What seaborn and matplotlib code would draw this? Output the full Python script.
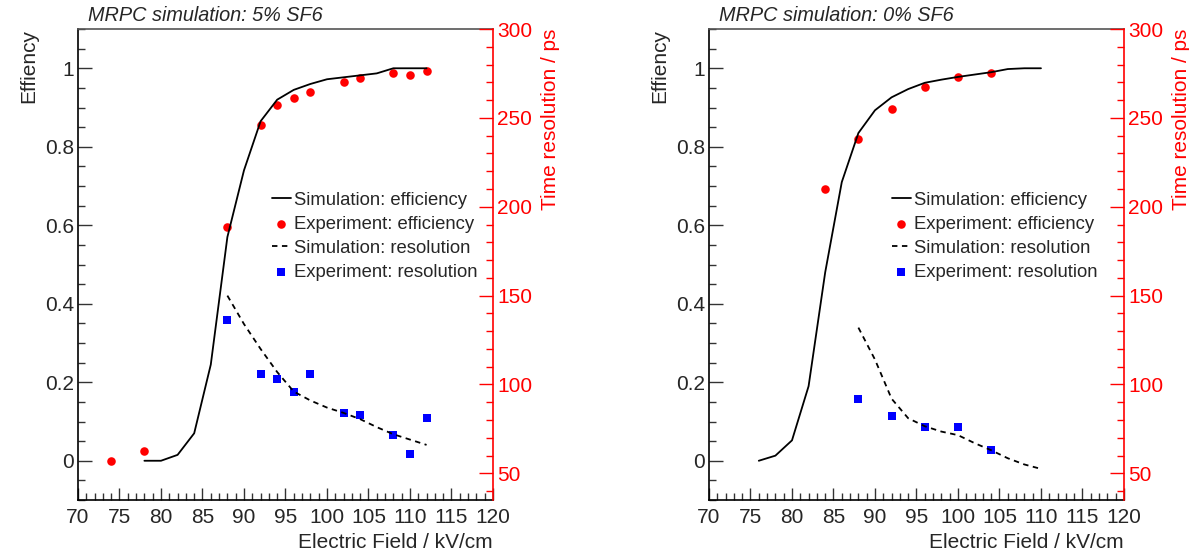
import matplotlib
matplotlib.use("Agg")
import matplotlib.pyplot as plt
import seaborn as sns
from matplotlib.ticker import MultipleLocator, FuncFormatter

# Panneau gauche : 5% SF6
sim_field_5 = [78, 80, 82, 84, 86, 88, 90, 92, 94, 96, 98, 100, 102, 104, 106, 108, 110, 112]
sim_eff_5 = [0.0, 0.0, 0.015, 0.07, 0.245, 0.57, 0.74, 0.865, 0.92, 0.945, 0.96, 0.972, 0.977, 0.982, 0.987, 1.0, 1.0, 1.0]
exp_eff_field_5 = [74, 78, 88, 92, 94, 96, 98, 102, 104, 108, 110, 112]
exp_eff_5 = [0.0, 0.025, 0.596, 0.856, 0.906, 0.923, 0.939, 0.966, 0.975, 0.988, 0.984, 0.992]
sim_res_field_5 = [88, 90, 92, 94, 96, 98, 100, 102, 104, 106, 108, 110, 112]
sim_res_5 = [150, 134, 120, 107, 96, 91, 87, 84, 80.5, 76, 72, 69, 66]
exp_res_field_5 = [88, 92, 94, 96, 98, 102, 104, 108, 110, 112]
exp_res_5 = [136.5, 106, 103, 96, 105.7, 84, 83, 71.4, 60.7, 81.4]

# Panneau droit : 0% SF6
sim_field_0 = [76, 78, 80, 82, 84, 86, 88, 90, 92, 94, 96, 98, 100, 102, 104, 106, 108, 110]
sim_eff_0 = [0.0, 0.013, 0.052, 0.19, 0.48, 0.71, 0.835, 0.893, 0.926, 0.947, 0.963, 0.971, 0.978, 0.984, 0.99, 0.998, 1.0, 1.0]
exp_eff_field_0 = [84, 88, 92, 96, 100, 104]
exp_eff_0 = [0.692, 0.82, 0.897, 0.952, 0.979, 0.989]
sim_res_field_0 = [88, 90, 92, 94, 96, 98, 100, 102, 104, 106, 108, 110]
sim_res_0 = [132, 114, 92, 81, 76.5, 73.5, 71.5, 67, 63, 58.5, 55, 52.5]
exp_res_field_0 = [88, 92, 96, 100, 104]
exp_res_0 = [91.7, 82.5, 76.1, 76.1, 63.3]

titles = ["MRPC simulation: 5% SF6", "MRPC simulation: 0% SF6"]
labels = ["Simulation: efficiency", "Experiment: efficiency",
          "Simulation: resolution", "Experiment: resolution"]

sns.set_theme(style="white")
plt.rcParams["font.family"] = ["Liberation Sans", "DejaVu Sans"]


def panneau(fig, rect, titre, d, leg_x):
    # Un graphique style ROOT avec deux axes y
    (sf, se, ef, ee, rf, rs, xf, xe) = d
    ax = fig.add_axes(rect)
    ax2 = ax.twinx()

    sns.lineplot(x=sf, y=se, ax=ax, color="black", lw=1.3, label=labels[0])
    sns.scatterplot(x=ef, y=ee, ax=ax, color="red", s=38, marker="o",
                    linewidth=0, label=labels[1])
    sns.lineplot(x=rf, y=rs, ax=ax2, color="black", lw=1.3,
                 linestyle=(0, (3, 2.5)), label=labels[2])
    sns.scatterplot(x=xf, y=xe, ax=ax2, color="blue", s=30, marker="s",
                    linewidth=0, label=labels[3])

    ax.set_xlim(70, 120)
    ax.set_ylim(-0.1, 1.1)
    ax2.set_ylim(35, 300)

    ax.xaxis.set_major_locator(MultipleLocator(5))
    ax.xaxis.set_minor_locator(MultipleLocator(1))
    ax.yaxis.set_major_locator(MultipleLocator(0.2))
    ax.yaxis.set_minor_locator(MultipleLocator(0.05))
    ax.yaxis.set_major_formatter(FuncFormatter(lambda v, p: "%g" % round(v, 2)))
    ax2.yaxis.set_major_locator(MultipleLocator(50))
    ax2.yaxis.set_minor_locator(MultipleLocator(10))

    ax.tick_params(axis="x", which="major", direction="in", length=9, width=1, pad=6,
                   labelsize=15, bottom=True, color="#333333")
    ax.tick_params(axis="x", which="minor", direction="in", length=5, width=1,
                   bottom=True, color="#333333")
    ax.tick_params(axis="y", which="major", direction="in", length=10, width=1, pad=3,
                   labelsize=15, left=True, color="#333333")
    ax.tick_params(axis="y", which="minor", direction="in", length=5, width=1,
                   left=True, color="#333333")
    ax2.tick_params(axis="y", which="major", direction="in", length=10, width=1, pad=3,
                    labelsize=15, right=True, color="red", labelcolor="red")
    ax2.tick_params(axis="y", which="minor", direction="in", length=5, width=1,
                    right=True, color="red")

    for s in ["left", "bottom", "top"]:
        ax.spines[s].set_color("black")
        ax.spines[s].set_linewidth(1.2)
        ax2.spines[s].set_visible(False)
    ax.spines["top"].set_color("#555555")
    ax.spines["right"].set_visible(False)
    ax2.spines["right"].set_color("red")
    ax2.spines["right"].set_linewidth(1.2)

    ax.set_xlabel("Electric Field / kV/cm", loc="right", fontsize=15, labelpad=4)
    ax.set_ylabel("Effiency", loc="top", fontsize=15, labelpad=5)
    ax2.set_ylabel("Time resolution / ps", loc="top", fontsize=15, color="red", labelpad=6)

    ax.text(0.024, 1.008, titre, transform=ax.transAxes, fontsize=14.3,
            fontstyle="italic", ha="left", va="bottom")

    h1, l1 = ax.get_legend_handles_labels()
    h2, l2 = ax2.get_legend_handles_labels()
    if ax.get_legend():
        ax.get_legend().remove()
    ax2.legend(h1 + h2, l1 + l2, loc="upper left", bbox_to_anchor=(leg_x, 0.655),
               frameon=False, fontsize=13.3, handlelength=1.05, handletextpad=0.15,
               labelspacing=0.39, borderpad=0, borderaxespad=0, markerscale=1.0)
    return ax


fig = plt.figure(figsize=(11.89, 5.55), dpi=100)

panneau(fig, [0.0656, 0.0991, 0.349, 0.8486], titles[0],
        (sim_field_5, sim_eff_5, exp_eff_field_5, exp_eff_5,
         sim_res_field_5, sim_res_5, exp_res_field_5, exp_res_5), 0.467)
panneau(fig, [0.5963, 0.0991, 0.349, 0.8486], titles[1],
        (sim_field_0, sim_eff_0, exp_eff_field_0, exp_eff_0,
         sim_res_field_0, sim_res_0, exp_res_field_0, exp_res_0), 0.44)

plt.savefig("out.png", dpi=100)
